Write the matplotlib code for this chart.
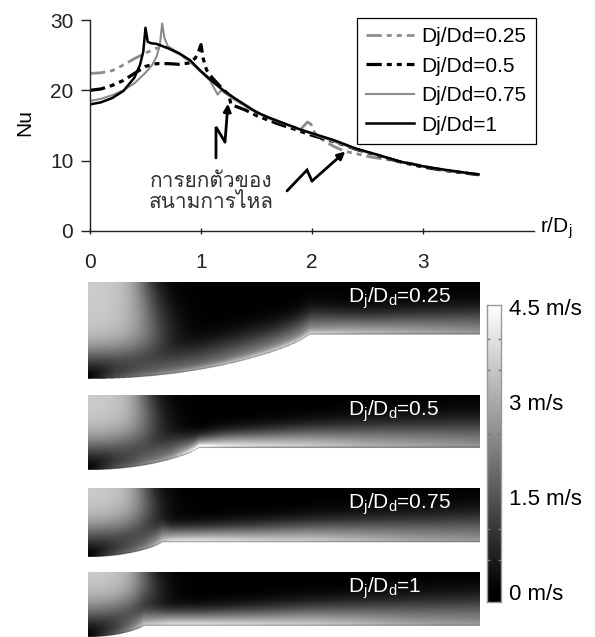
import numpy as np
import matplotlib
matplotlib.use("Agg")
import matplotlib.pyplot as plt
from matplotlib import font_manager
from matplotlib.ft2font import FT2Font

# ---------------- data ----------------
series_labels = ["Dj/Dd=0.25", "Dj/Dd=0.5", "Dj/Dd=0.75", "Dj/Dd=1"]

r_025 = [0, 0.1, 0.2, 0.3, 0.4, 0.5, 0.6, 0.7, 0.8, 0.9, 1.0, 1.2, 1.4, 1.6, 1.8, 1.9, 1.96, 1.99, 2.03, 2.1, 2.2, 2.3, 2.4, 2.5, 2.7, 2.9, 3.1, 3.3, 3.5]
nu_025 = [22.4, 22.5, 22.8, 23.6, 24.5, 25.3, 26.0, 26.1, 25.2, 24.2, 22.7, 20.0, 17.8, 16.1, 14.9, 14.5, 15.5, 15.2, 13.8, 12.9, 12.0, 11.3, 11.0, 10.6, 10.1, 9.6, 8.9, 8.4, 8.05]

r_05 = [0, 0.1, 0.2, 0.3, 0.4, 0.5, 0.6, 0.7, 0.8, 0.9, 0.95, 0.98, 1.0, 1.02, 1.05, 1.1, 1.2, 1.25, 1.27, 1.3, 1.4, 1.5, 1.6, 1.7, 1.8, 2.0, 2.2, 2.4, 2.6, 2.8, 3.0, 3.2, 3.5]
nu_05 = [20.0, 20.2, 20.7, 21.4, 22.4, 23.4, 23.8, 23.8, 23.7, 23.9, 24.6, 25.6, 26.5, 24.5, 22.9, 21.8, 20.1, 19.4, 18.0, 17.8, 17.2, 16.4, 15.8, 15.2, 14.7, 13.6, 12.7, 11.6, 10.7, 9.8, 9.1, 8.6, 8.0]

r_075 = [0, 0.1, 0.2, 0.3, 0.4, 0.5, 0.56, 0.6, 0.63, 0.65, 0.67, 0.7, 0.75, 0.8, 0.9, 1.0, 1.08, 1.15, 1.18, 1.3, 1.5, 1.7, 2.0, 2.4, 2.8, 3.2, 3.5]
nu_075 = [18.5, 18.8, 19.3, 20.0, 21.0, 22.5, 23.6, 24.8, 26.5, 29.5, 27.5, 26.3, 25.8, 25.2, 24.1, 22.6, 21.4, 19.4, 20.0, 18.7, 16.8, 15.5, 13.8, 11.6, 9.8, 8.6, 8.0]

r_1 = [0, 0.1, 0.2, 0.3, 0.4, 0.45, 0.48, 0.5, 0.52, 0.55, 0.6, 0.7, 0.8, 0.9, 1.0, 1.1, 1.2, 1.3, 1.4, 1.5, 1.6, 1.7, 1.8, 1.9, 2.0, 2.2, 2.4, 2.6, 2.8, 3.0, 3.2, 3.4, 3.5]
nu_1 = [18.0, 18.3, 18.9, 19.9, 21.8, 23.6, 25.5, 28.9, 26.9, 26.7, 26.6, 26.0, 25.3, 24.3, 22.7, 21.3, 20.0, 18.9, 17.9, 16.9, 16.2, 15.6, 15.0, 14.4, 13.9, 12.9, 11.7, 10.8, 9.85, 9.2, 8.7, 8.25, 8.05]

x_ticks = [0, 1, 2, 3]
y_ticks = [0, 10, 20, 30]

annot_lines = ["การยกตัวของ", "สนามการไหล"]
arrow1_r = [1.135, 1.135, 1.216, 1.243]
arrow1_nu = [10.4, 14.8, 12.65, 18.1]
arrow2_r = [1.775, 1.955, 2.0, 2.30]
arrow2_nu = [5.7, 8.67, 7.1, 11.3]

# velocity panels
panel_ratio = [0.25, 0.5, 0.75, 1.0]
panel_text = ["0.25", "0.5", "0.75", "1"]
dish_t = [0.0, 0.1, 0.2, 0.3, 0.4, 0.5, 0.6, 0.7, 0.8, 0.85, 0.9, 0.95, 1.0]
dish_shape = [1.0, 0.992, 0.968, 0.927, 0.870, 0.794, 0.700, 0.583, 0.442, 0.358, 0.265, 0.155, 0.0]
wall_r = [0, 0.25, 0.5, 0.75, 1.0, 1.25, 1.5, 2.0, 2.5, 3.0, 3.5]
wall_u = [
    [0, 1.8, 2.8, 3.5, 4.0, 4.5, 4.8, 5.0, 4.0, 3.5, 3.2],
    [0, 1.8, 2.9, 3.9, 6.5, 5.0, 4.6, 4.1, 3.6, 3.3, 3.0],
    [0, 1.8, 3.1, 4.9, 4.8, 4.7, 4.5, 4.2, 3.8, 3.4, 3.2],
    [0, 2.0, 4.3, 4.7, 4.7, 4.6, 4.5, 4.2, 3.8, 3.4, 3.2],
]
wall_d = [
    [0.55, 0.55, 0.5, 0.45, 0.45, 0.45, 0.45, 0.4, 0.36, 0.4, 0.44],
    [0.55, 0.55, 0.5, 0.4, 0.22, 0.27, 0.3, 0.36, 0.41, 0.45, 0.48],
    [0.55, 0.55, 0.45, 0.27, 0.27, 0.29, 0.31, 0.36, 0.4, 0.44, 0.48],
    [0.55, 0.55, 0.32, 0.27, 0.27, 0.29, 0.31, 0.36, 0.4, 0.44, 0.48],
]
wall_a = [
    [0.4, 0.4, 0.45, 0.5, 0.55, 0.55, 0.55, 0.5, 0.3, 0.25, 0.25],
    [0.4, 0.4, 0.4, 0.45, 0.55, 0.3, 0.25, 0.2, 0.2, 0.2, 0.2],
    [0.4, 0.4, 0.4, 0.35, 0.3, 0.3, 0.3, 0.25, 0.25, 0.25, 0.25],
    [0.4, 0.4, 0.35, 0.3, 0.3, 0.3, 0.3, 0.25, 0.25, 0.25, 0.25],
]
cbar_ticks = [0, 1.5, 3, 4.5]
cbar_labels = ["0 m/s", "1.5 m/s", "3 m/s", "4.5 m/s"]

# ---------------- fonts ----------------
thai_font = None
for f in font_manager.fontManager.ttflist:
    try:
        cmap_ = FT2Font(f.fname).get_charmap()
        if 0x0E01 in cmap_ and 0x0E32 in cmap_ and 0x0E44 in cmap_:
            thai_font = f.name
            break
    except Exception:
        pass
fams = ["Liberation Sans"] + ([thai_font] if thai_font else []) + ["DejaVu Sans"]
plt.rcParams["font.family"] = fams
plt.rcParams["mathtext.default"] = "regular"
plt.rcParams["lines.scale_dashes"] = False

W, H = 595, 637
fig = plt.figure(figsize=(W / 100, H / 100), dpi=100)


def rect(x0, y0, x1, y1):
    return [x0 / W, 1 - y1 / H, (x1 - x0) / W, (y1 - y0) / H]


FS = 15
# ---------------- top line plot ----------------
ax = fig.add_axes(rect(90, 20, 534, 231))
gray = "#8c8c8c"
dd = (11, 3.6, 3.6, 3.6, 3.6, 3.6)
ax.plot(r_025, nu_025, color=gray, lw=2.0, dashes=dd, label=series_labels[0])
ax.plot(r_05, nu_05, color="black", lw=2.3, dashes=dd, label=series_labels[1])
ax.plot(r_075, nu_075, color=gray, lw=1.5, label=series_labels[2])
ax.plot(r_1, nu_1, color="black", lw=1.8, label=series_labels[3])
ax.set_xlim(0, 4)
ax.set_ylim(0, 30)
ax.set_xticks(x_ticks)
ax.set_yticks(y_ticks)
for s in ["top", "right"]:
    ax.spines[s].set_visible(False)
for s in ["left", "bottom"]:
    ax.spines[s].set_color("#222222")
    ax.spines[s].set_linewidth(1.0)
ax.tick_params(axis="y", direction="out", length=6.5, width=1, pad=5.5, labelsize=FS, colors="#222222")
ax.tick_params(axis="x", direction="inout", length=5, width=1, pad=13, labelsize=FS, colors="#222222")
ax.set_ylabel("Nu", fontsize=FS)
ax.yaxis.set_label_coords(-0.125, 0.512)
ax.text(1.0135, 0.014, "r/D$_j$", transform=ax.transAxes, fontsize=FS, ha="left", va="center")
leg = ax.legend(loc="upper left", bbox_to_anchor=(357 / W, 1 - 18 / H), bbox_transform=fig.transFigure,
                fontsize=FS, frameon=True, fancybox=False, framealpha=1, edgecolor="black",
                borderaxespad=0, borderpad=0.45, labelspacing=0.5, handlelength=2.3, handletextpad=0.35)
leg.get_frame().set_linewidth(0.9)

ax.text(1.09, 5.55, annot_lines[0] + "\n" + annot_lines[1], fontsize=FS, color="#333333",
        ha="center", va="center", linespacing=1.1)
for ar, an in [(arrow1_r, arrow1_nu), (arrow2_r, arrow2_nu)]:
    ax.plot(ar[:-1], an[:-1], color="black", lw=2.0, solid_capstyle="round", solid_joinstyle="miter")
    ax.annotate("", xy=(ar[-1], an[-1]), xytext=(ar[-2], an[-2]),
                arrowprops=dict(arrowstyle="-|>", lw=2.0, color="black", mutation_scale=11,
                                shrinkA=0, shrinkB=0))

# ---------------- velocity panels ----------------
R_MAX = 3.53
panel_top = [282, 395, 488, 572]
strip_bot = [335, 448, 542, 626]
strip_h = [53, 53, 54, 54]
gcmap = plt.get_cmap("gray")
for i, ratio in enumerate(panel_ratio):
    rd = 0.5 / ratio
    depth_px = 0.2 * rd * 111
    depth = depth_px / strip_h[i]
    axp = fig.add_axes(rect(88, panel_top[i], 480, strip_bot[i] + depth_px))
    r = np.linspace(0, R_MAX, 700)
    z = np.linspace(-depth, 1, 360)
    Rg, Zg = np.meshgrid(r, z)
    t = np.clip(Rg / rd, 0, 1)
    zb = np.where(Rg < rd, -depth * np.interp(t, dish_t, dish_shape), 0.0)
    d = Zg - zb
    h = 1 - Zg
    dp = np.clip(d, 0, None)
    hc = np.clip(h, 0, 1.8)
    rj = 0.5 + 0.1 * hc
    sw = 0.16 + 0.08 * hc
    J = 0.5 * (1 - np.tanh((Rg - rj) / sw))
    V = 3.6 * J * np.tanh((dp / 0.65) ** 1.6)
    uw = np.interp(Rg, wall_r, wall_u[i])
    dw = np.interp(Rg, wall_r, wall_d[i])
    aa = np.interp(Rg, wall_r, wall_a[i])
    P = (1 - np.exp(-dp / 0.01)) * (aa * np.exp(-dp / 0.05) + (1 - aa) * np.exp(-(dp / dw) ** 2))
    U = uw * P
    S = np.sqrt(V ** 2 + U ** 2)
    rgba = gcmap(np.clip(S / 4.5, 0, 1))
    rgba[d < 0] = (1, 1, 1, 1)
    axp.imshow(rgba, origin="lower", extent=[0, R_MAX, -depth, 1], aspect="auto",
               interpolation="bilinear")
    axp.set_xlim(0, R_MAX)
    axp.set_ylim(-depth, 1)
    axp.axis("off")
    axp.text(348 / W, 1 - (panel_top[i] + 16) / H, "D$_j$/D$_d$=" + panel_text[i],
             transform=fig.transFigure, color="white", fontsize=FS, ha="left", va="center")

# ---------------- colorbar ----------------
cax = fig.add_axes(rect(487, 305, 501, 602))
vlo, vhi = -0.16, 4.53
grad = np.linspace(vlo, vhi, 300).reshape(-1, 1)
cax.imshow(grad, cmap="gray", vmin=0, vmax=4.5, origin="lower", extent=[0, 1, vlo, vhi], aspect="auto")
cax.set_xlim(0, 1)
cax.set_ylim(vlo, vhi)
cax.set_xticks([])
cax.yaxis.tick_right()
cax.set_yticks(cbar_ticks)
cax.set_yticklabels(cbar_labels)
cax.tick_params(axis="y", which="major", length=0, pad=6, labelsize=16)
cax.set_yticks(np.arange(0, 4.51, 0.5), minor=True)
cax.tick_params(axis="y", which="minor", direction="in", length=2, width=1, color="#777777",
                left=True, right=True)
for s in cax.spines.values():
    s.set_color("#999999")
    s.set_linewidth(1.0)

fig.savefig("out.png", dpi=100)
